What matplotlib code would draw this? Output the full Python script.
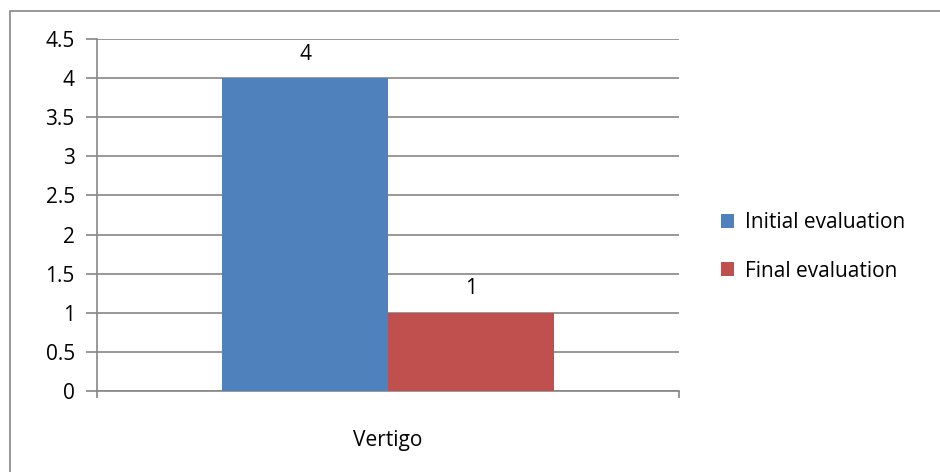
import matplotlib.pyplot as plt
from matplotlib.patches import Rectangle

categories = ["Vertigo"]
series_names = ["Initial evaluation", "Final evaluation"]
initial_values = [4]
final_values = [1]
yticks = [0, 0.5, 1, 1.5, 2, 2.5, 3, 3.5, 4, 4.5]

plt.rcParams['font.family'] = ['Open Sans', 'DejaVu Sans']
fs = 15
fig = plt.figure(figsize=(9.4, 4.72), dpi=100)
# outer chart border (bottom and right run off the picture)
fig.patches.append(Rectangle((10 / 940, -0.1), 1.2, 1.1 - 11 / 472, transform=fig.transFigure,
                             fill=False, edgecolor='#868686', lw=1.2))
ax = fig.add_axes([97 / 940, 81 / 472, 582 / 940, 352 / 472])

w = 0.285
colors = ['#4F81BD', '#C0504D']
for i, (name, vals) in enumerate(zip(series_names, [initial_values, final_values])):
    xs = [j + (i - 0.5) * w for j in range(len(categories))]
    bars = ax.bar(xs, vals, width=w, color=colors[i], label=name, zorder=3)
    for b, v in zip(bars, vals):
        ax.text(b.get_x() + b.get_width() / 2, v + 0.17, str(v), ha='center', va='bottom', fontsize=fs)

ax.set_xlim(-0.5, len(categories) - 0.5)
ax.set_ylim(0, 4.5)
ax.set_yticks(yticks)
ax.set_yticklabels([f"{t:g}" for t in yticks], fontsize=fs)
ax.yaxis.grid(True, color='#868686', lw=1.2, zorder=0)
ax.tick_params(axis='y', length=8, width=1.2, color='#868686', pad=8)
ax.set_xticks([-0.5, 0.5])
ax.set_xticklabels([])
ax.tick_params(axis='x', length=5, width=1.2, color='#868686', direction='out')
for j, c in enumerate(categories):
    ax.text(j, -0.5, c, ha='center', va='top', fontsize=fs)
for s in ['top', 'right']:
    ax.spines[s].set_visible(False)
for s in ['left', 'bottom']:
    ax.spines[s].set_color('#868686')
    ax.spines[s].set_linewidth(1.2)

fig.legend(loc='center left', bbox_to_anchor=(702 / 940, 225 / 472), frameon=False,
           fontsize=fs, handlelength=0.65, handleheight=0.65, handletextpad=0.5, labelspacing=1.3)
fig.savefig('out.png', dpi=100)
